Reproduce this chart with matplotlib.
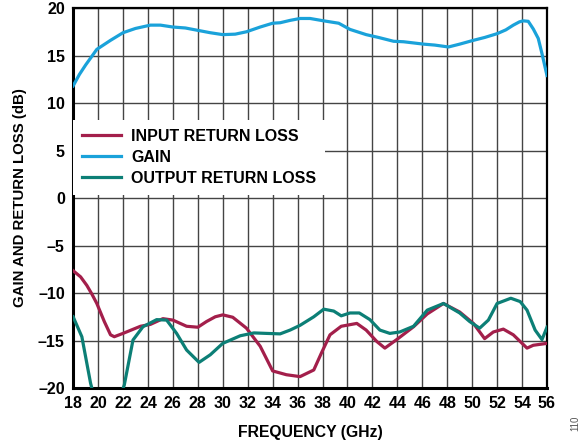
import numpy as np
import matplotlib
matplotlib.use("Agg")
import matplotlib.pyplot as plt

plt.rcParams["font.family"] = ["Liberation Sans", "DejaVu Sans"]
plt.rcParams["font.weight"] = "bold"

# --- Data ---
gain_f = [18, 18.5, 19, 19.9, 21, 22, 23, 24.2, 25, 26, 27, 28.2, 29, 30, 31, 31.9, 33, 34, 34.6,
          35.4, 36.2, 37, 38.1, 39.3, 40.2, 41.5, 42.5, 43.7, 44.5, 46.1, 47, 48.1, 49, 50.1, 51,
          52, 52.7, 53.3, 53.8, 54.1, 54.5, 54.9, 55.3, 55.6, 56]
gain_v = [11.8, 13.0, 14.0, 15.65, 16.6, 17.4, 17.85, 18.2, 18.2, 18.0, 17.9, 17.6, 17.4, 17.2,
          17.25, 17.5, 18.0, 18.4, 18.45, 18.7, 18.9, 18.9, 18.65, 18.4, 17.75, 17.2, 16.9, 16.5,
          16.45, 16.2, 16.1, 15.9, 16.2, 16.6, 16.9, 17.3, 17.7, 18.2, 18.55, 18.65, 18.6, 17.8,
          16.8, 15.2, 12.9]

irl_f = [18, 18.6, 19.1, 19.5, 19.9, 20.5, 21, 21.3, 22, 23.4, 24.2, 25.2, 26, 27.1, 28, 28.7, 29.4,
         30, 30.8, 31.9, 33, 34, 35.1, 36.2, 37.3, 37.9, 38.6, 39.5, 40.75, 41.5, 42.35, 43.0,
         43.95, 45.3, 46.4, 47.7, 49.0, 50.1, 51.0, 51.7, 52.5, 53.3, 54.4, 54.9, 56]
irl_v = [-7.65, -8.3, -9.2, -10.1, -11.1, -13.0, -14.4, -14.6, -14.25, -13.5, -13.3, -12.7, -12.85,
         -13.5, -13.6, -13.0, -12.5, -12.3, -12.55, -13.7, -15.6, -18.2, -18.6, -18.8, -18.1,
         -16.35, -14.4, -13.5, -13.2, -13.9, -15.1, -15.8, -14.9, -13.55, -12.2, -11.1, -12.0,
         -13.2, -14.8, -14.1, -13.8, -14.4, -15.8, -15.5, -15.3]

orl_f = [18, 18.7, 19.4, 19.8, 20.5, 21.3, 22.1, 22.8, 23.6, 24.7, 25.5, 26.3, 27.1, 28.1, 29,
         30, 31.4, 32.5, 33.5, 34.6, 35.4, 36.2, 37.3, 38.1, 38.9, 39.5, 40.2, 40.95, 41.8, 42.6,
         43.4, 44.2, 45.3, 46.4, 47.7, 49.0, 49.8, 50.6, 51.3, 52.0, 53.1, 53.85, 54.4, 55.05,
         55.6, 56]
orl_v = [-12.5, -14.6, -19.5, -21.5, -23.5, -22.5, -19.7, -14.95, -13.55, -12.8, -12.85, -14.25,
         -16.0, -17.3, -16.5, -15.3, -14.5, -14.2, -14.25, -14.3, -13.9, -13.4, -12.5, -11.7,
         -11.9, -12.4, -12.1, -12.1, -12.8, -13.9, -14.25, -14.1, -13.5, -11.8, -11.1, -12.1,
         -13.0, -13.7, -12.85, -11.1, -10.55, -10.9, -11.8, -13.9, -14.9, -13.6]

x_ticks = np.arange(18, 57, 2)
y_ticks = np.arange(-20, 21, 5)

red = "#A31F4B"
blue = "#1AA2DA"
teal = "#0C7F76"

# --- Plot ---
fig = plt.figure(figsize=(5.85, 4.46), dpi=100)
ax = fig.add_axes([0.125, 0.130, 0.81, 0.852])

ax.plot(irl_f, irl_v, color=red, lw=2.3, label="INPUT RETURN LOSS", zorder=3)
ax.plot(gain_f, gain_v, color=blue, lw=2.3, label="GAIN", zorder=3)
ax.plot(orl_f, orl_v, color=teal, lw=2.3, label="OUTPUT RETURN LOSS", zorder=3)

ax.set_xlim(18, 56)
ax.set_ylim(-20, 20)
ax.set_xticks(x_ticks)
ax.set_yticks(y_ticks)
ax.set_yticklabels([f"{v}".replace("-", "\u2013") for v in y_ticks])
ax.tick_params(length=0, labelsize=11.5, pad=6)
ax.grid(True, color="#444444", lw=1.0)
ax.set_axisbelow(True)

for side in ["left", "bottom"]:
    ax.spines[side].set_linewidth(2.2)
for side in ["top", "right"]:
    ax.spines[side].set_linewidth(1.6)

ax.set_xlabel("FREQUENCY (GHz)", fontsize=11.3, fontweight="bold", labelpad=10)
ax.set_ylabel("GAIN AND RETURN LOSS (dB)", fontsize=10.8, fontweight="bold", labelpad=8)

leg = ax.legend(loc="upper left", bbox_to_anchor=(0.0, 0.705), borderaxespad=0,
                fontsize=11.5, frameon=True, fancybox=False, framealpha=1,
                handlelength=2.45, handletextpad=0.65, labelspacing=0.37, borderpad=0.55)
leg.get_frame().set_edgecolor("none")
leg.get_frame().set_facecolor("white")
for t in leg.get_texts():
    t.set_fontweight("bold")

fig.text(0.983, 0.05, "110", rotation=90, fontsize=7, color="#555555",
         fontweight="normal", ha="center", va="center")

fig.savefig("out.png", dpi=100)
